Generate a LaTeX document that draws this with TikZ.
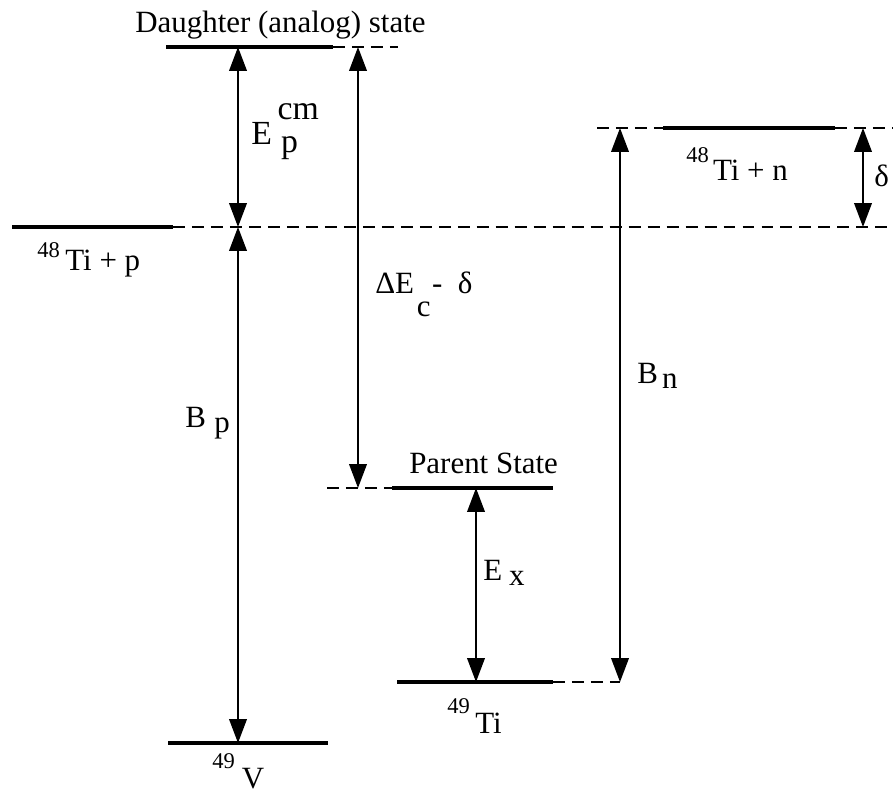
\documentclass[tikz,border=0pt]{standalone}
\usepackage{fontspec}
\setmainfont{Liberation Serif}
\usetikzlibrary{arrows.meta}
\newcommand{\isosup}[2]{\raisebox{#2}{\fontsize{16}{19}\selectfont #1}}

\begin{document}
\begin{tikzpicture}[x=0.025cm, y=-0.025cm,
    lvl/.style={line width=2.8pt},
    gap/.style={line width=1.7pt, dash pattern=on 8.5pt off 5pt},
    dbl/.style={{Triangle[length=17pt,width=12.5pt]}-{Triangle[length=17pt,width=12.5pt]},
                line width=1.3pt},
    lab/.style={font=\fontsize{22}{26}\selectfont, anchor=base west, inner sep=0pt},
  ]
  \useasboundingbox (0,0) rectangle (893,794);

  % energy levels (y) and arrow columns (x)
  \coordinate (dau) at (0,47);
  \coordinate (tip) at (0,227);
  \coordinate (tin) at (0,128);
  \coordinate (par) at (0,488);
  \coordinate (ti)  at (0,682);
  \coordinate (v)   at (0,743);
  \coordinate (cP)  at (238,0);
  \coordinate (cDE) at (358,0);
  \coordinate (cEx) at (476,0);
  \coordinate (cBn) at (620,0);
  \coordinate (cDl) at (863,0);

  % level lines -- solid part, dashed continuation
  \draw[lvl] (166,47) -- (333,47);
  \draw[gap] (333,47) -- (398,47);
  \draw[lvl] (12,227) -- (173,227);
  \draw[gap] (173,227) -- (893,227);
  \draw[gap] (597,128) -- (663,128);
  \draw[lvl] (663,128) -- (835,128);
  \draw[gap] (835,128) -- (893,128);
  \draw[gap] (327,488) -- (392,488);
  \draw[lvl] (392,488) -- (553,488);
  \draw[lvl] (397,682) -- (553,682);
  \draw[gap] (553,682) -- (620,682);
  \draw[lvl] (168,743) -- (328,743);

  % energy differences
  \draw[dbl] (cP |- dau) -- (cP |- tip);
  \draw[dbl] (cP |- tip) -- (cP |- v);
  \draw[dbl] (cDE |- dau) -- (cDE |- par);
  \draw[dbl] (cEx |- par) -- (cEx |- ti);
  \draw[dbl] (cBn |- tin) -- (cBn |- ti);
  \draw[dbl] (cDl |- tin) -- (cDl |- tip);

  % labels
  \node[lab] (dauL) at (135,33) {Daughter (analog) state};
  \node[lab] (epL)  at (251,145) {\fontsize{24}{28}\selectfont E\hspace{4pt}\rlap{\raisebox{17.8pt}{cm}}\hspace{2.5pt}\raisebox{-5pt}{p}};
  \node[lab] (tipL) at (37,270) {\isosup{48}{9pt}\hspace{4pt}Ti + p};
  \node[lab] (dEL)  at (375,293) {ΔE\hspace{2pt}\raisebox{-17pt}{c}\hspace{1pt}-\hspace{11pt}δ};
  \node[lab] (bpL)  at (185,427) {B\hspace{6pt}\raisebox{-3.6pt}{p}};
  \node[lab] (parL) at (409,473) {Parent State};
  \node[lab] (exL)  at (483,580) {E\hspace{5pt}\raisebox{-3.6pt}{x}};
  \node[lab] (bnL)  at (637,383) {B\hspace{3pt}\raisebox{-3.6pt}{n}};
  \node[lab] (tinL) at (686,180) {\isosup{48}{12.8pt}\hspace{3pt}Ti + n};
  \node[lab] (tiL)  at (447,733) {\isosup{49}{14pt}\hspace{4pt}Ti};
  \node[lab] (vL)   at (212,788) {\isosup{49}{14pt}\hspace{5pt}V};
  \node[lab] (dlL)  at (874,187) {δ};
\end{tikzpicture}
\end{document}
